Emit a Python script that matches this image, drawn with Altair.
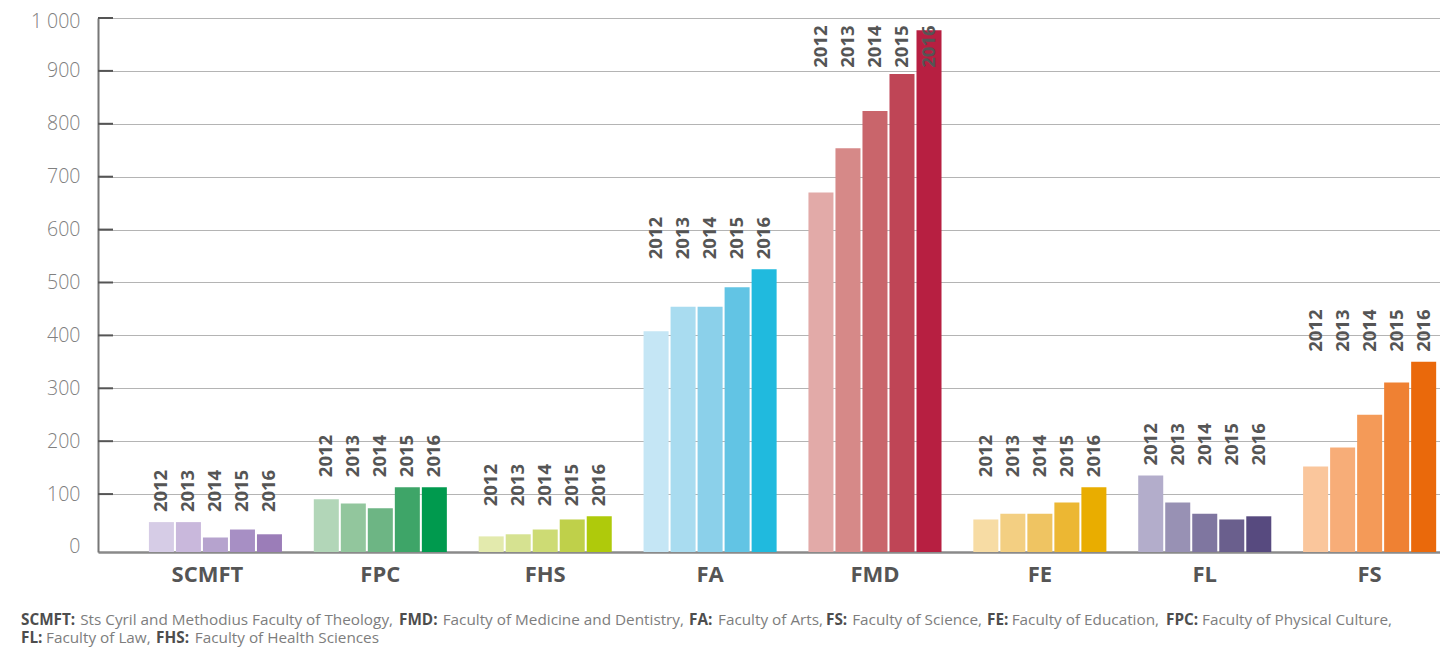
import altair as alt
import pandas as pd

# ---------------- data ----------------
faculties = ["SCMFT", "FPC", "FHS", "FA", "FMD", "FE", "FL", "FS"]
years = ["2012", "2013", "2014", "2015", "2016"]

scmft = [47, 47, 18, 33, 24]
fpc = [90, 82, 73, 113, 113]
fhs = [20, 24, 33, 52, 58]
fa = [408, 454, 454, 491, 525]
fmd = [670, 754, 824, 894, 977]
fe = [52, 63, 63, 84, 113]
fl = [135, 84, 63, 52, 58]
fs = [152, 188, 250, 311, 350]
series = [scmft, fpc, fhs, fa, fmd, fe, fl, fs]

y_ticks = [0, 100, 200, 300, 400, 500, 600, 700, 800, 900, 1000]

# ---------------- styles ----------------
palettes = [
    ["#d6cce6", "#c9b8dc", "#b6a3ce", "#a78fc4", "#9b7db8"],
    ["#b2d6b8", "#92c69d", "#6db584", "#3ea568", "#009a4e"],
    ["#e3eaad", "#d6e291", "#cddb74", "#bfd04a", "#afca0b"],
    ["#c5e6f5", "#a9dcf0", "#8bd0ea", "#62c4e4", "#20bade"],
    ["#e2aaa8", "#d68988", "#c9656b", "#bf4556", "#b71f41"],
    ["#f7dca4", "#f3cf82", "#efc462", "#ecb733", "#e9ad00"],
    ["#b3adcb", "#9891b4", "#7f76a0", "#6a5f8d", "#574a7f"],
    ["#fac69c", "#f7ad78", "#f49a58", "#ef8133", "#ea690b"],
]

FONT = "Open Sans"
DARK = "#555555"
GRAY = "#808080"

rows = []
keys, colors = [], []
for f, vals, pal in zip(faculties, series, palettes):
    for yr, v, c in zip(years, vals, pal):
        rows.append({"faculty": f, "year": yr, "value": v, "key": f + yr})
        keys.append(f + yr)
        colors.append(c)
df = pd.DataFrame(rows)

# footnote pieces: (text, bold, align, x on page, line)
footnote = [
    ("SCMFT:", True, "left", 21, 0),
    ("Sts Cyril and Methodius Faculty of Theology,", False, "right", 393, 0),
    ("FMD:", True, "left", 399, 0),
    ("Faculty of Medicine and Dentistry,", False, "right", 684, 0),
    ("FA:", True, "left", 689, 0),
    ("Faculty of Arts,", False, "left", 718, 0),
    ("FS:", True, "left", 826, 0),
    ("Faculty of Science,", False, "right", 982, 0),
    ("FE:", True, "left", 987, 0),
    ("Faculty of Education,", False, "right", 1159, 0),
    ("FPC:", True, "left", 1166, 0),
    ("Faculty of Physical Culture,", False, "right", 1392, 0),
    ("FL:", True, "left", 21, 1),
    ("Faculty of Law,", False, "left", 46, 1),
    ("FHS:", True, "right", 189, 1),
    ("Faculty of Health Sciences", False, "right", 379, 1),
]

PAD_L, PAD_T = 90, 10
W, H = 1342, 534

x_enc = alt.X(
    "faculty:N", sort=faculties,
    scale=alt.Scale(paddingInner=0.193, paddingOuter=0.166, align=0.93),
    axis=alt.Axis(title=None, labelAngle=0, labelFont=FONT, labelFontSize=22,
                  labelFontWeight="bold", labelColor=DARK, labelPadding=12,
                  labelOffset={"condition": {"test": "datum.value === 'SCMFT'", "value": -8}, "value": 0},
                  ticks=False, domainColor="#8a8a8a", domainWidth=2.5, grid=False),
)
xoff = alt.XOffset("year:N", sort=years,
                   scale=alt.Scale(paddingInner=0.074, paddingOuter=0))
y_scale = alt.Scale(domain=[-9.5, 1000], nice=False, zero=False)

bars = alt.Chart(df).mark_bar().encode(
    x=x_enc,
    xOffset=xoff,
    y=alt.Y("value:Q", scale=y_scale,
            axis=alt.Axis(title=None, values=y_ticks,
                          labelExpr="replace(format(datum.value, ','), ',', ' ')",
                          labelFont=FONT, labelFontSize=19.5, labelFontWeight=300,
                          labelColor=GRAY, labelPadding=18, ticks=False,
                          labelOffset={"condition": {"test": "datum.value === 1000", "value": 3}, "value": 0},
                          domainColor="#777777", domainWidth=2,
                          grid=True, gridColor="#b4b4b4", gridWidth=1.2,
                          gridOpacity={"condition": {"test": "datum.value === 0", "value": 0}, "value": 1})),
    y2=alt.datum(-9.5),
    color=alt.Color("key:N", scale=alt.Scale(domain=keys, range=colors), legend=None),
)

labels = alt.Chart(df).transform_joinaggregate(
    gmax="max(value)", groupby=["faculty"]
).transform_calculate(
    ly="min(datum.gmax, 887)"
).mark_text(
    angle=270, align="left", baseline="middle", dx=10,
    font=FONT, fontSize=18.5, fontWeight="bold", color=DARK,
).encode(
    x=alt.X("faculty:N", sort=faculties),
    xOffset=alt.XOffset("year:N", sort=years),
    y=alt.Y("ly:Q", scale=y_scale),
    text="year:N",
)

tick_df = pd.DataFrame({"t": y_ticks[1:]})
ticks = alt.Chart(tick_df).mark_rule(color=DARK, strokeWidth=2).encode(
    y=alt.Y("t:Q", scale=y_scale),
    x=alt.value(0), x2=alt.value(15),
)

layers = [bars, ticks, labels]
line_y = [620 - 8 - PAD_T, 638 - 8 - PAD_T]
for text, bold, align, px, ln in footnote:
    layers.append(
        alt.Chart(pd.DataFrame({"s": [text]})).mark_text(
            align=align, baseline="middle", font=FONT, fontSize=15.3,
            fontWeight="bold" if bold else "normal",
            color="#4d4d4d" if bold else "#7d7d7d",
        ).encode(text="s:N", x=alt.value(px - 8 - PAD_L), y=alt.value(line_y[ln]))
    )

chart = alt.layer(*layers).properties(
    width=W, height=H,
    autosize=alt.AutoSizeParams(type="none"),
    padding={"left": PAD_L, "top": PAD_T, "right": 0, "bottom": 96},
).configure_view(stroke=None).configure(background="white")

chart.save("out.html", embed_options={"renderer": "svg", "actions": False})
